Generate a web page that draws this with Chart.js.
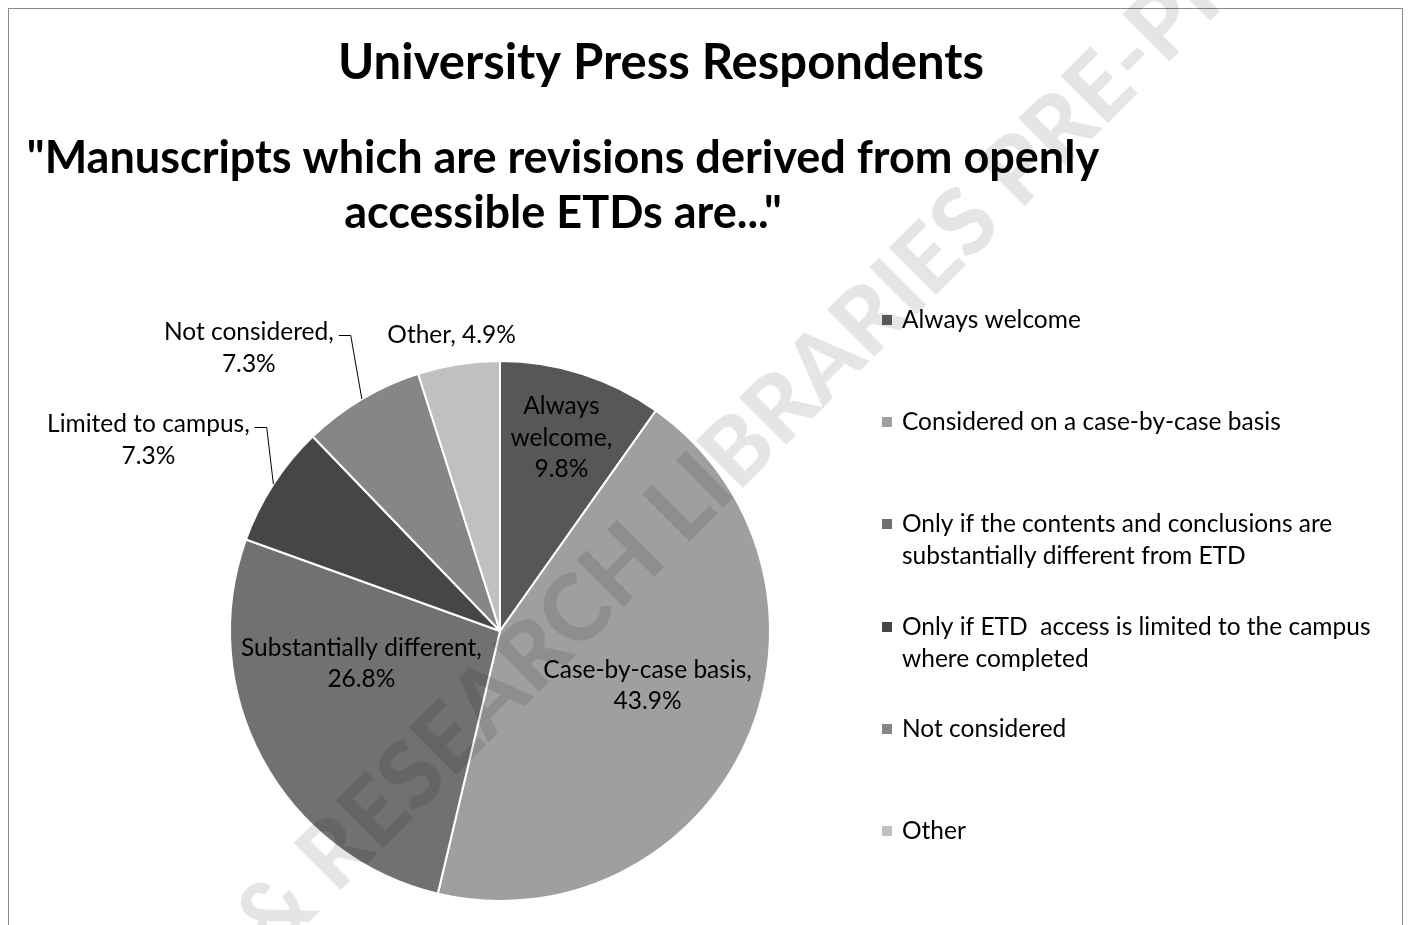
<!DOCTYPE html>
<html><head><meta charset="utf-8">
<script src="https://cdn.jsdelivr.net/npm/chart.js@4"></script>
<style>html,body{margin:0;padding:0;background:#fff;overflow:hidden}
canvas{display:block}</style></head>
<body><canvas id="c" width="1408" height="925"></canvas>
<script>
// ---- data ----
const titleText = 'University Press Respondents';
const subtitleLines = ['"Manuscripts which are revisions derived from openly', 'accessible ETDs are..."'];
const legendLabels = [
  ['Always welcome'],
  ['Considered on a case-by-case basis'],
  ['Only if the contents and conclusions are', 'substantially different from ETD'],
  ['Only if ETD  access is limited to the campus', 'where completed'],
  ['Not considered'],
  ['Other']
];
const sliceNames = ['Always welcome', 'Case-by-case basis', 'Substantially different', 'Limited to campus', 'Not considered', 'Other'];
const percentValues = [9.8, 43.9, 26.8, 7.3, 7.3, 4.9];
const sliceColors = ['#575757', '#9f9f9f', '#717171', '#464646', '#868686', '#c0c0c0'];
const watermarkText = 'COLLEGE & RESEARCH LIBRARIES PRE-PRINT';

const FONT = 'Lato, "Open Sans", sans-serif';

// label placement (relative to slice geometry)
const labelPlan = [
  {split: 'words', inside: true, f: 0.75, dx: 0, dy: 0},
  {split: 'name', inside: true, f: 0.6, dx: 0, dy: -12},
  {split: 'name', inside: true, f: 0.55, dx: -8, dy: -38},
  {split: 'name', inside: false, dx: -125, dy: -44, leader: true},
  {split: 'name', inside: false, dx: -113, dy: -51, leader: true},
  {split: 'none', inside: false, dx: -7, dy: -29}
];

function fmt(v) { return v.toFixed(1) + '%'; }

const framePlugin = {
  id: 'frame',
  beforeDraw(chart) {
    const ctx = chart.ctx;
    ctx.save();
    ctx.fillStyle = '#fff';
    ctx.fillRect(0, 0, chart.width, chart.height);
    ctx.strokeStyle = '#8a8a8a';
    ctx.lineWidth = 1;
    ctx.strokeRect(8.5, 8.5, 1394, 1000);
    ctx.fillStyle = '#000';
    ctx.textAlign = 'center';
    ctx.textBaseline = 'middle';
    ctx.font = 'bold 49px ' + FONT;
    ctx.fillText(titleText, 661, 63);
    ctx.font = 'bold 45px ' + FONT;
    ctx.fillText(subtitleLines[0], 563, 158);
    ctx.fillText(subtitleLines[1], 563, 213);
    ctx.restore();
  }
};

const labelPlugin = {
  id: 'sliceLabels',
  afterDatasetsDraw(chart) {
    const ctx = chart.ctx;
    const meta = chart.getDatasetMeta(0);
    // watermark (drawn over slices, under labels)
    ctx.save();
    ctx.font = '900 92px ' + FONT;
    ctx.fillStyle = 'rgba(0,0,0,0.1)';
    ctx.translate(273, 958);
    ctx.rotate(-Math.PI / 4);
    const pre = ctx.measureText('COLLEGE ').width;
    ctx.textAlign = 'left';
    ctx.textBaseline = 'alphabetic';
    ctx.fillText(watermarkText, -pre, 0);
    ctx.restore();

    ctx.save();
    ctx.font = '24.5px ' + FONT;
    ctx.fillStyle = '#000';
    ctx.strokeStyle = '#000';
    ctx.lineWidth = 1;
    ctx.textAlign = 'center';
    ctx.textBaseline = 'middle';
    const lh = 31.5;
    meta.data.forEach((arc, i) => {
      const p = arc.getProps(['x', 'y', 'startAngle', 'endAngle', 'outerRadius'], true);
      const mid = (p.startAngle + p.endAngle) / 2;
      const plan = labelPlan[i];
      const val = fmt(percentValues[i]);
      let lines;
      if (plan.split === 'words') lines = (sliceNames[i] + ',').split(' ').concat([val]);
      else if (plan.split === 'name') lines = [sliceNames[i] + ',', val];
      else lines = [sliceNames[i] + ', ' + val];
      let cx, cy;
      const ex = p.x + Math.cos(mid) * p.outerRadius;
      const ey = p.y + Math.sin(mid) * p.outerRadius;
      if (plan.inside) {
        cx = p.x + Math.cos(mid) * p.outerRadius * plan.f + plan.dx;
        cy = p.y + Math.sin(mid) * p.outerRadius * plan.f + plan.dy;
      } else {
        cx = ex + plan.dx;
        cy = ey + plan.dy;
      }
      const n = lines.length;
      lines.forEach((t, k) => {
        ctx.fillText(t, cx, cy + (k - (n - 1) / 2) * lh);
      });
      if (plan.leader) {
        const w = ctx.measureText(lines[0]).width;
        const y0 = Math.round(cy - (n - 1) / 2 * lh) + 3.5;
        const x0 = cx + w / 2 + 5;
        ctx.beginPath();
        ctx.moveTo(x0, y0);
        ctx.lineTo(x0 + 12, y0);
        ctx.lineTo(ex, ey);
        ctx.stroke();
      }
    });
    ctx.restore();
  }
};

const legendPlugin = {
  id: 'sideLegend',
  afterDraw(chart) {
    const ctx = chart.ctx;
    ctx.save();
    ctx.font = '24.5px ' + FONT;
    ctx.textAlign = 'left';
    ctx.textBaseline = 'middle';
    const top = 320, step = 102.2, lh = 32;
    legendLabels.forEach((lines, i) => {
      const y = top + i * step;
      ctx.fillStyle = sliceColors[i];
      ctx.fillRect(882, Math.round(y) - 5, 10, 10);
      ctx.fillStyle = '#000';
      lines.forEach((t, k) => ctx.fillText(t, 902, y + k * lh));
    });
    ctx.restore();
  }
};

new Chart(document.getElementById('c'), {
  type: 'pie',
  data: {
    labels: legendLabels,
    datasets: [{
      data: percentValues,
      backgroundColor: sliceColors,
      borderColor: '#ffffff',
      borderWidth: 2
    }]
  },
  options: {
    responsive: false,
    animation: false,
    devicePixelRatio: 1,
    layout: {padding: {left: 229, right: 637, top: 360, bottom: 23}},
    plugins: {
      legend: {display: false},
      title: {display: false},
      tooltip: {enabled: false}
    }
  },
  plugins: [framePlugin, labelPlugin, legendPlugin]
});
</script>
</body></html>
